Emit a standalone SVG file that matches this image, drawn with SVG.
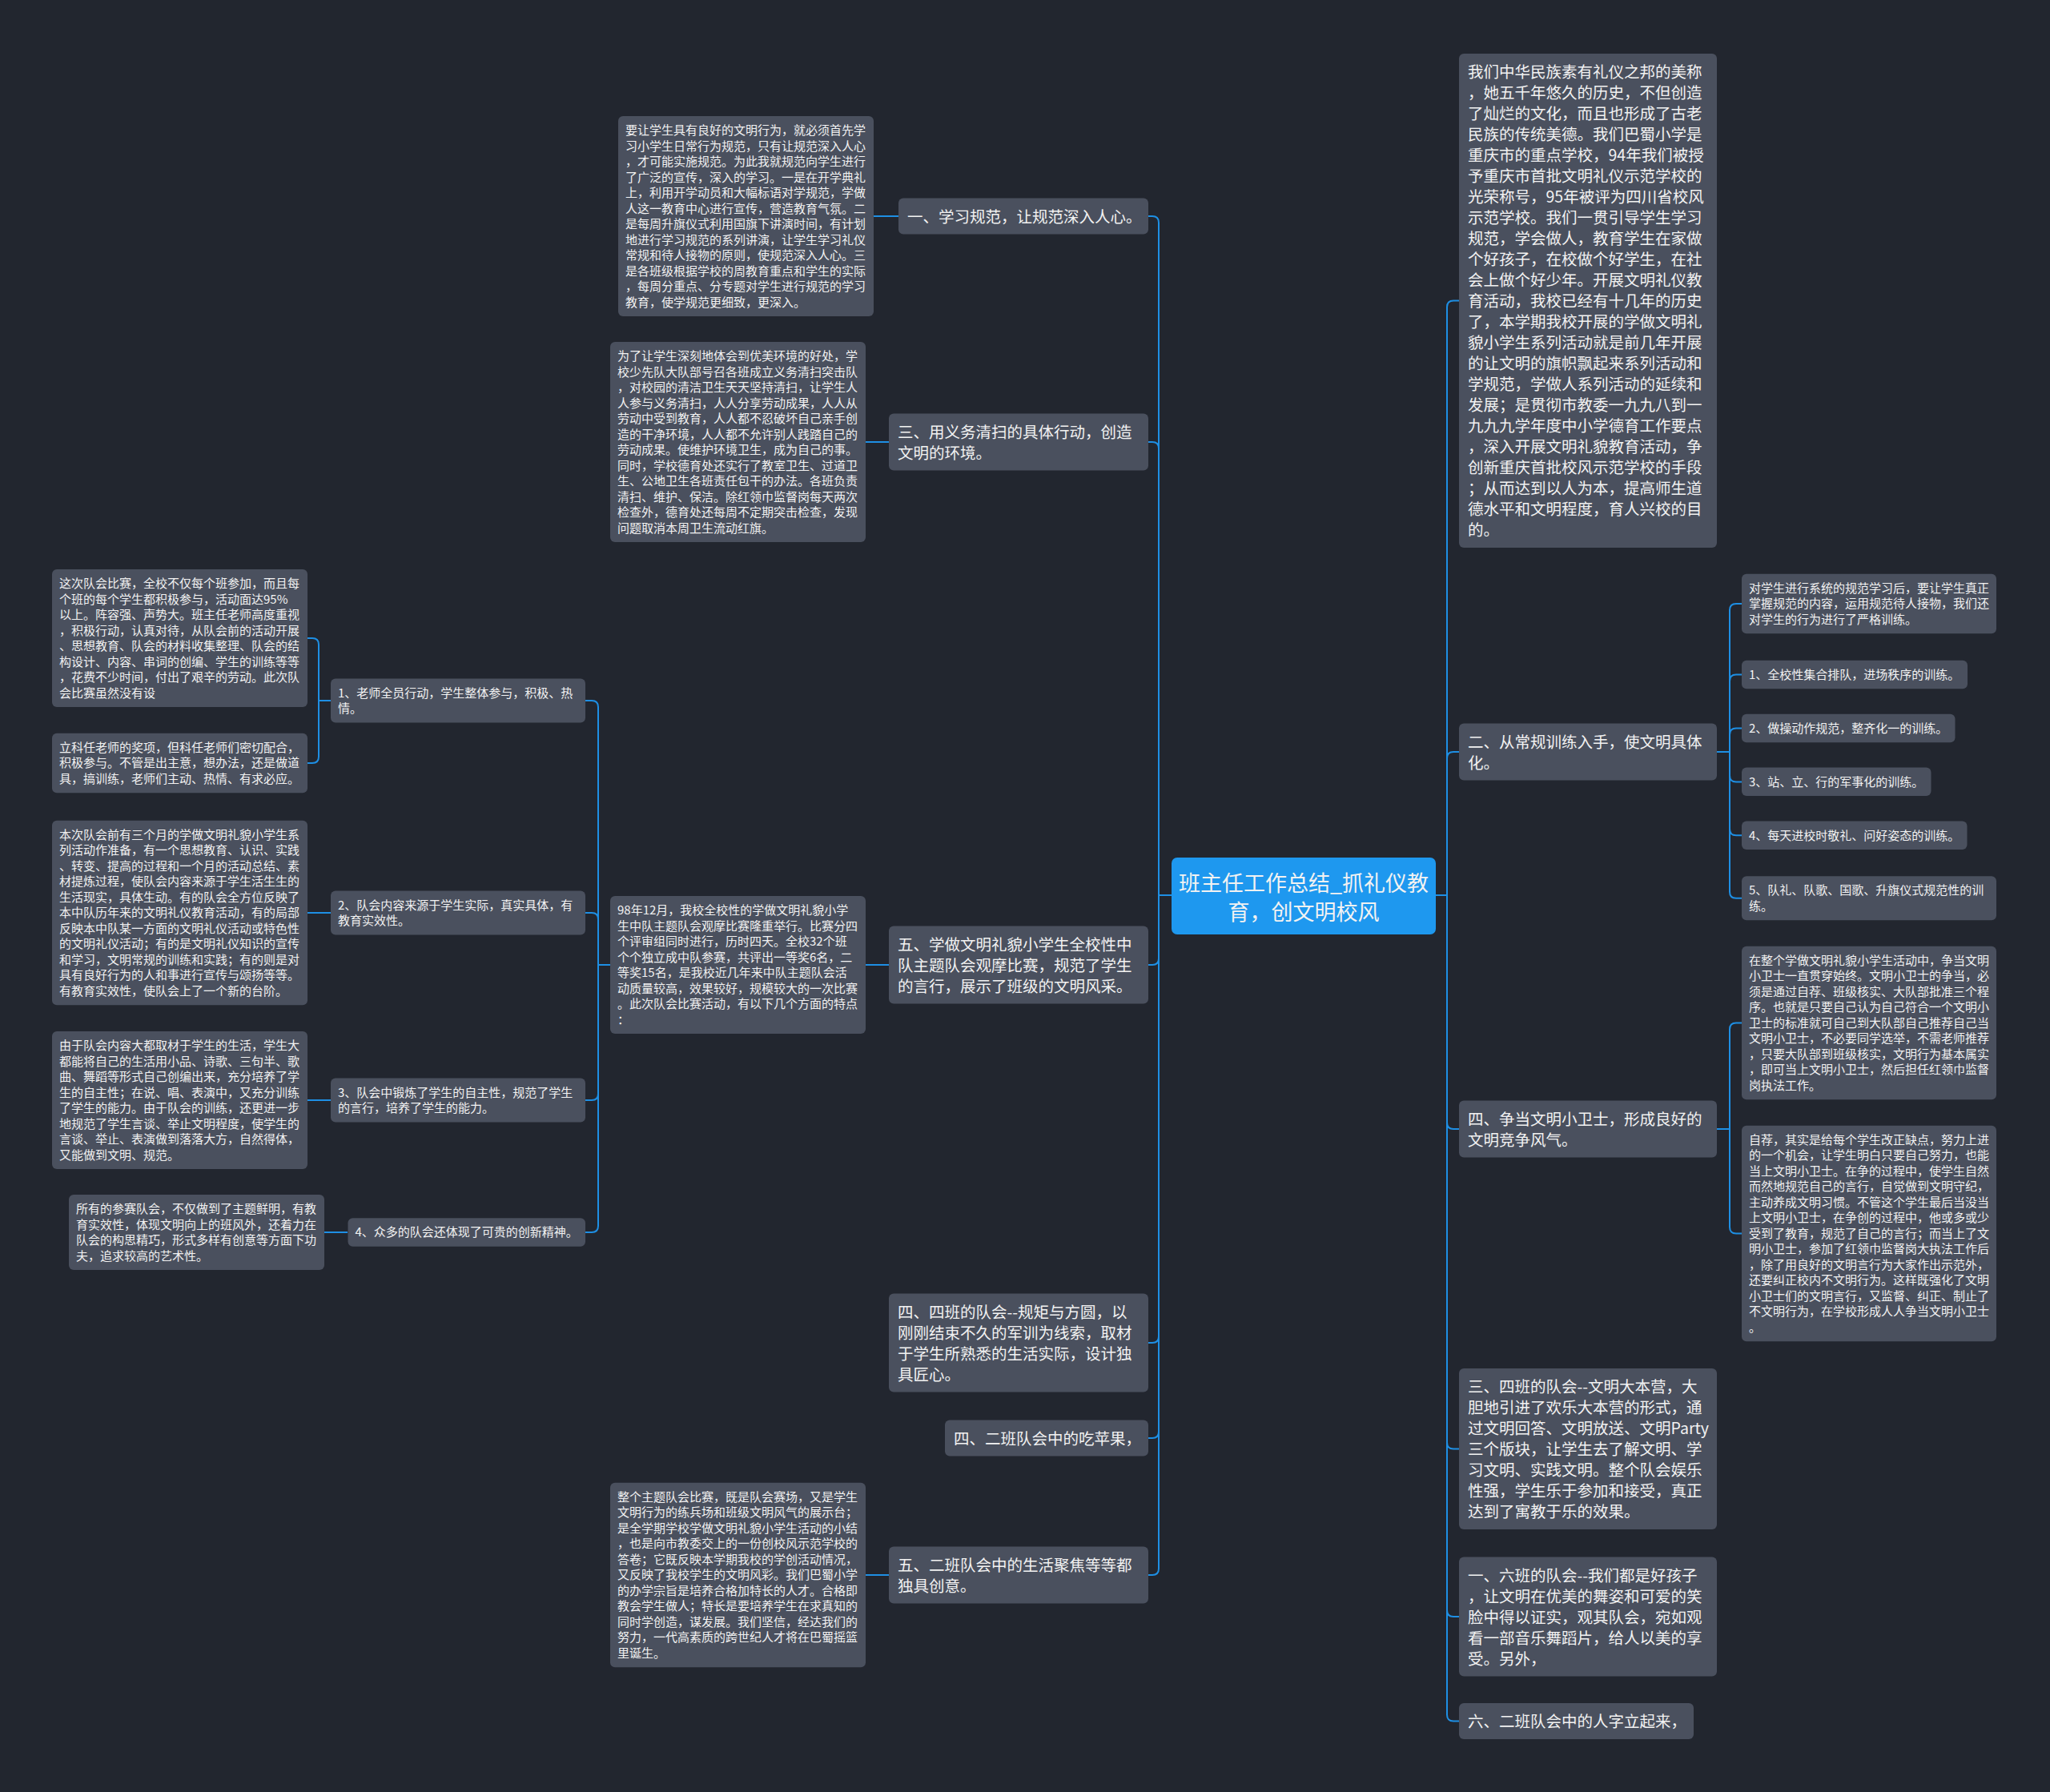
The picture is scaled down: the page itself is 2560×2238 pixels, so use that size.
<svg xmlns="http://www.w3.org/2000/svg" width="2560" height="2238" viewBox="0 0 2560 2238">
<style>
.bg{fill:#22262f}
.n{fill:#4a505e}
.root{fill:#1e98ef}
.t{font-family:"Noto Sans CJK SC","Noto Sans",sans-serif;fill:#f2f2f2}
.s{font-size:15px}
.m{font-size:19.5px}
.c{font-size:27px}
.lk{fill:none;stroke:#1e8fe4;stroke-width:2}
</style>
<rect class="bg" x="0" y="0" width="2560" height="2238"/>
<g id="connectors">
<path class="lk" d="M1463 1118 H1447 V278 Q1447 270 1439 270 H1434"/>
<path class="lk" d="M1463 1118 H1447 V560 Q1447 552 1439 552 H1434"/>
<path class="lk" d="M1463 1118 H1447 V1197 Q1447 1205 1439 1205 H1434"/>
<path class="lk" d="M1463 1118 H1447 V1669 Q1447 1677 1439 1677 H1434"/>
<path class="lk" d="M1463 1118 H1447 V1788 Q1447 1796 1439 1796 H1434"/>
<path class="lk" d="M1463 1118 H1447 V1959 Q1447 1967 1439 1967 H1434"/>
<path class="lk" d="M1793 1118 H1807 V383.5 Q1807 375.5 1815 375.5 H1822"/>
<path class="lk" d="M1793 1118 H1807 V947 Q1807 939 1815 939 H1822"/>
<path class="lk" d="M1793 1118 H1807 V1402 Q1807 1410 1815 1410 H1822"/>
<path class="lk" d="M1793 1118 H1807 V1801.5 Q1807 1809.5 1815 1809.5 H1822"/>
<path class="lk" d="M1793 1118 H1807 V2011 Q1807 2019 1815 2019 H1822"/>
<path class="lk" d="M1793 1118 H1807 V2141.5 Q1807 2149.5 1815 2149.5 H1822"/>
<path class="lk" d="M2144 939 H2160 V762 Q2160 754 2168 754 H2175"/>
<path class="lk" d="M2144 939 H2160 V850.5 Q2160 842.5 2168 842.5 H2175"/>
<path class="lk" d="M2144 939 H2160 V917.5 Q2160 909.5 2168 909.5 H2175"/>
<path class="lk" d="M2144 939 H2160 V968.4 Q2160 976.4 2168 976.4 H2175"/>
<path class="lk" d="M2144 939 H2160 V1035.3 Q2160 1043.3 2168 1043.3 H2175"/>
<path class="lk" d="M2144 939 H2160 V1113.7 Q2160 1121.7 2168 1121.7 H2175"/>
<path class="lk" d="M2144 1410 H2160 V1285.6 Q2160 1277.6 2168 1277.6 H2175"/>
<path class="lk" d="M2144 1410 H2160 V1532.4 Q2160 1540.4 2168 1540.4 H2175"/>
<path class="lk" d="M1122 270 H1091"/>
<path class="lk" d="M1110 552 H1081"/>
<path class="lk" d="M1110 1205 H1081"/>
<path class="lk" d="M1110 1967 H1081"/>
<path class="lk" d="M762 1205 H747 V883 Q747 875 739 875 H731"/>
<path class="lk" d="M762 1205 H747 V1148 Q747 1140 739 1140 H731"/>
<path class="lk" d="M762 1205 H747 V1366 Q747 1374 739 1374 H731"/>
<path class="lk" d="M762 1205 H747 V1531 Q747 1539 739 1539 H731"/>
<path class="lk" d="M413 875 H398 V805 Q398 797 390 797 H384"/>
<path class="lk" d="M413 875 H398 V945 Q398 953 390 953 H384"/>
<path class="lk" d="M413 1140 H384"/>
<path class="lk" d="M413 1374 H384"/>
<path class="lk" d="M434 1539 H405"/>
</g>
<g id="root">
<rect class="root" x="1463" y="1071" width="330" height="96" rx="7"/>
<text class="t c" text-anchor="middle" fill="#fff"><tspan x="1628" y="1113">班主任工作总结_抓礼仪教</tspan><tspan x="1628" y="1149">育，创文明校风</tspan></text>
</g>
<g id="nA"><rect class="n" x="1122" y="247.5" width="312" height="45" rx="6"/>
<text class="t m"><tspan x="1133" y="277.5">一、学习规范，让规范深入人心。</tspan></text></g>
<g id="nB"><rect class="n" x="1110" y="516.5" width="324" height="71" rx="6"/>
<text class="t m"><tspan x="1121" y="546.5">三、用义务清扫的具体行动，创造</tspan><tspan x="1121" dy="26">文明的环境。</tspan></text></g>
<g id="nC"><rect class="n" x="1110" y="1156.5" width="324" height="97" rx="6"/>
<text class="t m"><tspan x="1121" y="1186.5">五、学做文明礼貌小学生全校性中</tspan><tspan x="1121" dy="26">队主题队会观摩比赛，规范了学生</tspan><tspan x="1121" dy="26">的言行，展示了班级的文明风采。</tspan></text></g>
<g id="nD"><rect class="n" x="1110" y="1615.5" width="324" height="123" rx="6"/>
<text class="t m"><tspan x="1121" y="1645.5">四、四班的队会--规矩与方圆，以</tspan><tspan x="1121" dy="26">刚刚结束不久的军训为线索，取材</tspan><tspan x="1121" dy="26">于学生所熟悉的生活实际，设计独</tspan><tspan x="1121" dy="26">具匠心。</tspan></text></g>
<g id="nE"><rect class="n" x="1180" y="1773.5" width="254" height="45" rx="6"/>
<text class="t m"><tspan x="1191" y="1803.5">四、二班队会中的吃苹果，</tspan></text></g>
<g id="nF"><rect class="n" x="1110" y="1931.5" width="324" height="71" rx="6"/>
<text class="t m"><tspan x="1121" y="1961.5">五、二班队会中的生活聚焦等等都</tspan><tspan x="1121" dy="26">独具创意。</tspan></text></g>
<g id="nG"><rect class="n" x="1822" y="67" width="322" height="617" rx="6"/>
<text class="t m"><tspan x="1833" y="97">我们中华民族素有礼仪之邦的美称</tspan><tspan x="1833" dy="26">，她五千年悠久的历史，不但创造</tspan><tspan x="1833" dy="26">了灿烂的文化，而且也形成了古老</tspan><tspan x="1833" dy="26">民族的传统美德。我们巴蜀小学是</tspan><tspan x="1833" dy="26">重庆市的重点学校，94年我们被授</tspan><tspan x="1833" dy="26">予重庆市首批文明礼仪示范学校的</tspan><tspan x="1833" dy="26">光荣称号，95年被评为四川省校风</tspan><tspan x="1833" dy="26">示范学校。我们一贯引导学生学习</tspan><tspan x="1833" dy="26">规范，学会做人，教育学生在家做</tspan><tspan x="1833" dy="26">个好孩子，在校做个好学生，在社</tspan><tspan x="1833" dy="26">会上做个好少年。开展文明礼仪教</tspan><tspan x="1833" dy="26">育活动，我校已经有十几年的历史</tspan><tspan x="1833" dy="26">了，本学期我校开展的学做文明礼</tspan><tspan x="1833" dy="26">貌小学生系列活动就是前几年开展</tspan><tspan x="1833" dy="26">的让文明的旗帜飘起来系列活动和</tspan><tspan x="1833" dy="26">学规范，学做人系列活动的延续和</tspan><tspan x="1833" dy="26">发展；是贯彻市教委一九九八到一</tspan><tspan x="1833" dy="26">九九九学年度中小学德育工作要点</tspan><tspan x="1833" dy="26">，深入开展文明礼貌教育活动，争</tspan><tspan x="1833" dy="26">创新重庆首批校风示范学校的手段</tspan><tspan x="1833" dy="26">；从而达到以人为本，提高师生道</tspan><tspan x="1833" dy="26">德水平和文明程度，育人兴校的目</tspan><tspan x="1833" dy="26">的。</tspan></text></g>
<g id="nH"><rect class="n" x="1822" y="903.5" width="322" height="71" rx="6"/>
<text class="t m"><tspan x="1833" y="933.5">二、从常规训练入手，使文明具体</tspan><tspan x="1833" dy="26">化。</tspan></text></g>
<g id="nI"><rect class="n" x="1822" y="1374.5" width="322" height="71" rx="6"/>
<text class="t m"><tspan x="1833" y="1404.5">四、争当文明小卫士，形成良好的</tspan><tspan x="1833" dy="26">文明竞争风气。</tspan></text></g>
<g id="nJ"><rect class="n" x="1822" y="1709" width="322" height="201" rx="6"/>
<text class="t m"><tspan x="1833" y="1739">三、四班的队会--文明大本营，大</tspan><tspan x="1833" dy="26">胆地引进了欢乐大本营的形式，通</tspan><tspan x="1833" dy="26">过文明回答、文明放送、文明Party</tspan><tspan x="1833" dy="26">三个版块，让学生去了解文明、学</tspan><tspan x="1833" dy="26">习文明、实践文明。整个队会娱乐</tspan><tspan x="1833" dy="26">性强，学生乐于参加和接受，真正</tspan><tspan x="1833" dy="26">达到了寓教于乐的效果。</tspan></text></g>
<g id="nK"><rect class="n" x="1822" y="1944.5" width="322" height="149" rx="6"/>
<text class="t m"><tspan x="1833" y="1974.5">一、六班的队会--我们都是好孩子</tspan><tspan x="1833" dy="26">，让文明在优美的舞姿和可爱的笑</tspan><tspan x="1833" dy="26">脸中得以证实，观其队会，宛如观</tspan><tspan x="1833" dy="26">看一部音乐舞蹈片，给人以美的享</tspan><tspan x="1833" dy="26">受。另外，</tspan></text></g>
<g id="nL"><rect class="n" x="1822" y="2127" width="293" height="45" rx="6"/>
<text class="t m"><tspan x="1833" y="2157">六、二班队会中的人字立起来，</tspan></text></g>
<g id="a0"><rect class="n" x="772" y="145" width="319" height="250" rx="6"/>
<text class="t s"><tspan x="781" y="168">要让学生具有良好的文明行为，就必须首先学</tspan><tspan x="781" dy="19.5">习小学生日常行为规范，只有让规范深入人心</tspan><tspan x="781" dy="19.5">，才可能实施规范。为此我就规范向学生进行</tspan><tspan x="781" dy="19.5">了广泛的宣传，深入的学习。一是在开学典礼</tspan><tspan x="781" dy="19.5">上，利用开学动员和大幅标语对学规范，学做</tspan><tspan x="781" dy="19.5">人这一教育中心进行宣传，营造教育气氛。二</tspan><tspan x="781" dy="19.5">是每周升旗仪式利用国旗下讲演时间，有计划</tspan><tspan x="781" dy="19.5">地进行学习规范的系列讲演，让学生学习礼仪</tspan><tspan x="781" dy="19.5">常规和待人接物的原则，使规范深入人心。三</tspan><tspan x="781" dy="19.5">是各班级根据学校的周教育重点和学生的实际</tspan><tspan x="781" dy="19.5">，每周分重点、分专题对学生进行规范的学习</tspan><tspan x="781" dy="19.5">教育，使学规范更细致，更深入。</tspan></text></g>
<g id="b0"><rect class="n" x="762" y="427" width="319" height="250" rx="6"/>
<text class="t s"><tspan x="771" y="450">为了让学生深刻地体会到优美环境的好处，学</tspan><tspan x="771" dy="19.5">校少先队大队部号召各班成立义务清扫突击队</tspan><tspan x="771" dy="19.5">，对校园的清洁卫生天天坚持清扫，让学生人</tspan><tspan x="771" dy="19.5">人参与义务清扫，人人分享劳动成果，人人从</tspan><tspan x="771" dy="19.5">劳动中受到教育，人人都不忍破坏自己亲手创</tspan><tspan x="771" dy="19.5">造的干净环境，人人都不允许别人践踏自己的</tspan><tspan x="771" dy="19.5">劳动成果。使维护环境卫生，成为自己的事。</tspan><tspan x="771" dy="19.5">同时，学校德育处还实行了教室卫生、过道卫</tspan><tspan x="771" dy="19.5">生、公地卫生各班责任包干的办法。各班负责</tspan><tspan x="771" dy="19.5">清扫、维护、保洁。除红领巾监督岗每天两次</tspan><tspan x="771" dy="19.5">检查外，德育处还每周不定期突击检查，发现</tspan><tspan x="771" dy="19.5">问题取消本周卫生流动红旗。</tspan></text></g>
<g id="c0"><rect class="n" x="762" y="1119" width="319" height="172" rx="6"/>
<text class="t s"><tspan x="771" y="1142">98年12月，我校全校性的学做文明礼貌小学</tspan><tspan x="771" dy="19.5">生中队主题队会观摩比赛隆重举行。比赛分四</tspan><tspan x="771" dy="19.5">个评审组同时进行，历时四天。全校32个班</tspan><tspan x="771" dy="19.5">个个独立成中队参赛，共评出一等奖6名，二</tspan><tspan x="771" dy="19.5">等奖15名，是我校近几年来中队主题队会活</tspan><tspan x="771" dy="19.5">动质量较高，效果较好，规模较大的一次比赛</tspan><tspan x="771" dy="19.5">。此次队会比赛活动，有以下几个方面的特点</tspan><tspan x="771" dy="19.5">：</tspan></text></g>
<g id="f0"><rect class="n" x="762" y="1851.75" width="319" height="230.5" rx="6"/>
<text class="t s"><tspan x="771" y="1874.75">整个主题队会比赛，既是队会赛场，又是学生</tspan><tspan x="771" dy="19.5">文明行为的练兵场和班级文明风气的展示台；</tspan><tspan x="771" dy="19.5">是全学期学校学做文明礼貌小学生活动的小结</tspan><tspan x="771" dy="19.5">，也是向市教委交上的一份创校风示范学校的</tspan><tspan x="771" dy="19.5">答卷；它既反映本学期我校的学创活动情况，</tspan><tspan x="771" dy="19.5">又反映了我校学生的文明风彩。我们巴蜀小学</tspan><tspan x="771" dy="19.5">的办学宗旨是培养合格加特长的人才。合格即</tspan><tspan x="771" dy="19.5">教会学生做人；特长是要培养学生在求真知的</tspan><tspan x="771" dy="19.5">同时学创造，谋发展。我们坚信，经达我们的</tspan><tspan x="771" dy="19.5">努力，一代高素质的跨世纪人才将在巴蜀摇篮</tspan><tspan x="771" dy="19.5">里诞生。</tspan></text></g>
<g id="c1"><rect class="n" x="413" y="847.5" width="318" height="55" rx="6"/>
<text class="t s"><tspan x="422" y="870.5">1、老师全员行动，学生整体参与，积极、热</tspan><tspan x="422" dy="19.5">情。</tspan></text></g>
<g id="c2"><rect class="n" x="413" y="1112.5" width="318" height="55" rx="6"/>
<text class="t s"><tspan x="422" y="1135.5">2、队会内容来源于学生实际，真实具体，有</tspan><tspan x="422" dy="19.5">教育实效性。</tspan></text></g>
<g id="c3"><rect class="n" x="413" y="1346.5" width="318" height="55" rx="6"/>
<text class="t s"><tspan x="422" y="1369.5">3、队会中锻炼了学生的自主性，规范了学生</tspan><tspan x="422" dy="19.5">的言行，培养了学生的能力。</tspan></text></g>
<g id="c4"><rect class="n" x="434.5" y="1521.25" width="296.5" height="35.5" rx="6"/>
<text class="t s"><tspan x="443.5" y="1544.25">4、众多的队会还体现了可贵的创新精神。</tspan></text></g>
<g id="c1a"><rect class="n" x="65" y="711" width="319" height="172" rx="6"/>
<text class="t s"><tspan x="74" y="734">这次队会比赛，全校不仅每个班参加，而且每</tspan><tspan x="74" dy="19.5">个班的每个学生都积极参与，活动面达95%</tspan><tspan x="74" dy="19.5">以上。阵容强、声势大。班主任老师高度重视</tspan><tspan x="74" dy="19.5">，积极行动，认真对待，从队会前的活动开展</tspan><tspan x="74" dy="19.5">、思想教育、队会的材料收集整理、队会的结</tspan><tspan x="74" dy="19.5">构设计、内容、串词的创编、学生的训练等等</tspan><tspan x="74" dy="19.5">，花费不少时间，付出了艰辛的劳动。此次队</tspan><tspan x="74" dy="19.5">会比赛虽然没有设</tspan></text></g>
<g id="c1b"><rect class="n" x="65" y="915.75" width="319" height="74.5" rx="6"/>
<text class="t s"><tspan x="74" y="938.75">立科任老师的奖项，但科任老师们密切配合，</tspan><tspan x="74" dy="19.5">积极参与。不管是出主意，想办法，还是做道</tspan><tspan x="74" dy="19.5">具，搞训练，老师们主动、热情、有求必应。</tspan></text></g>
<g id="c2a"><rect class="n" x="65" y="1024.75" width="319" height="230.5" rx="6"/>
<text class="t s"><tspan x="74" y="1047.75">本次队会前有三个月的学做文明礼貌小学生系</tspan><tspan x="74" dy="19.5">列活动作准备，有一个思想教育、认识、实践</tspan><tspan x="74" dy="19.5">、转变、提高的过程和一个月的活动总结、素</tspan><tspan x="74" dy="19.5">材提炼过程，使队会内容来源于学生活生生的</tspan><tspan x="74" dy="19.5">生活现实，具体生动。有的队会全方位反映了</tspan><tspan x="74" dy="19.5">本中队历年来的文明礼仪教育活动，有的局部</tspan><tspan x="74" dy="19.5">反映本中队某一方面的文明礼仪活动或特色性</tspan><tspan x="74" dy="19.5">的文明礼仪活动；有的是文明礼仪知识的宣传</tspan><tspan x="74" dy="19.5">和学习，文明常规的训练和实践；有的则是对</tspan><tspan x="74" dy="19.5">具有良好行为的人和事进行宣传与颂扬等等。</tspan><tspan x="74" dy="19.5">有教育实效性，使队会上了一个新的台阶。</tspan></text></g>
<g id="c3a"><rect class="n" x="65" y="1288" width="319" height="172" rx="6"/>
<text class="t s"><tspan x="74" y="1311">由于队会内容大都取材于学生的生活，学生大</tspan><tspan x="74" dy="19.5">都能将自己的生活用小品、诗歌、三句半、歌</tspan><tspan x="74" dy="19.5">曲、舞蹈等形式自己创编出来，充分培养了学</tspan><tspan x="74" dy="19.5">生的自主性；在说、唱、表演中，又充分训练</tspan><tspan x="74" dy="19.5">了学生的能力。由于队会的训练，还更进一步</tspan><tspan x="74" dy="19.5">地规范了学生言谈、举止文明程度，使学生的</tspan><tspan x="74" dy="19.5">言谈、举止、表演做到落落大方，自然得体，</tspan><tspan x="74" dy="19.5">又能做到文明、规范。</tspan></text></g>
<g id="c4a"><rect class="n" x="86" y="1492" width="319" height="94" rx="6"/>
<text class="t s"><tspan x="95" y="1515">所有的参赛队会，不仅做到了主题鲜明，有教</tspan><tspan x="95" dy="19.5">育实效性，体现文明向上的班风外，还着力在</tspan><tspan x="95" dy="19.5">队会的构思精巧，形式多样有创意等方面下功</tspan><tspan x="95" dy="19.5">夫，追求较高的艺术性。</tspan></text></g>
<g id="h1"><rect class="n" x="2175" y="716.75" width="318" height="74.5" rx="6"/>
<text class="t s"><tspan x="2184" y="739.75">对学生进行系统的规范学习后，要让学生真正</tspan><tspan x="2184" dy="19.5">掌握规范的内容，运用规范待人接物，我们还</tspan><tspan x="2184" dy="19.5">对学生的行为进行了严格训练。</tspan></text></g>
<g id="h2"><rect class="n" x="2175" y="824.75" width="282" height="35.5" rx="6"/>
<text class="t s"><tspan x="2184" y="847.75">1、全校性集合排队，进场秩序的训练。</tspan></text></g>
<g id="h3"><rect class="n" x="2175" y="891.75" width="266.5" height="35.5" rx="6"/>
<text class="t s"><tspan x="2184" y="914.75">2、做操动作规范，整齐化一的训练。</tspan></text></g>
<g id="h4"><rect class="n" x="2175" y="958.6" width="236.5" height="35.5" rx="6"/>
<text class="t s"><tspan x="2184" y="981.6">3、站、立、行的军事化的训练。</tspan></text></g>
<g id="h5"><rect class="n" x="2175" y="1025.5" width="281.5" height="35.5" rx="6"/>
<text class="t s"><tspan x="2184" y="1048.5">4、每天进校时敬礼、问好姿态的训练。</tspan></text></g>
<g id="h6"><rect class="n" x="2175" y="1094.2" width="318" height="55" rx="6"/>
<text class="t s"><tspan x="2184" y="1117.2">5、队礼、队歌、国歌、升旗仪式规范性的训</tspan><tspan x="2184" dy="19.5">练。</tspan></text></g>
<g id="i1"><rect class="n" x="2175" y="1181.8" width="318" height="191.5" rx="6"/>
<text class="t s"><tspan x="2184" y="1204.8">在整个学做文明礼貌小学生活动中，争当文明</tspan><tspan x="2184" dy="19.5">小卫士一直贯穿始终。文明小卫士的争当，必</tspan><tspan x="2184" dy="19.5">须是通过自荐、班级核实、大队部批准三个程</tspan><tspan x="2184" dy="19.5">序。也就是只要自己认为自己符合一个文明小</tspan><tspan x="2184" dy="19.5">卫士的标准就可自己到大队部自己推荐自己当</tspan><tspan x="2184" dy="19.5">文明小卫士，不必要同学选举，不需老师推荐</tspan><tspan x="2184" dy="19.5">，只要大队部到班级核实，文明行为基本属实</tspan><tspan x="2184" dy="19.5">，即可当上文明小卫士，然后担任红领巾监督</tspan><tspan x="2184" dy="19.5">岗执法工作。</tspan></text></g>
<g id="i2"><rect class="n" x="2175" y="1405.7" width="318" height="269.5" rx="6"/>
<text class="t s"><tspan x="2184" y="1428.7">自荐，其实是给每个学生改正缺点，努力上进</tspan><tspan x="2184" dy="19.5">的一个机会，让学生明白只要自己努力，也能</tspan><tspan x="2184" dy="19.5">当上文明小卫士。在争的过程中，使学生自然</tspan><tspan x="2184" dy="19.5">而然地规范自己的言行，自觉做到文明守纪，</tspan><tspan x="2184" dy="19.5">主动养成文明习惯。不管这个学生最后当没当</tspan><tspan x="2184" dy="19.5">上文明小卫士，在争创的过程中，他或多或少</tspan><tspan x="2184" dy="19.5">受到了教育，规范了自己的言行；而当上了文</tspan><tspan x="2184" dy="19.5">明小卫士，参加了红领巾监督岗大执法工作后</tspan><tspan x="2184" dy="19.5">，除了用良好的文明言行为大家作出示范外，</tspan><tspan x="2184" dy="19.5">还要纠正校内不文明行为。这样既强化了文明</tspan><tspan x="2184" dy="19.5">小卫士们的文明言行，又监督、纠正、制止了</tspan><tspan x="2184" dy="19.5">不文明行为，在学校形成人人争当文明小卫士</tspan><tspan x="2184" dy="19.5">。</tspan></text></g>
</svg>
